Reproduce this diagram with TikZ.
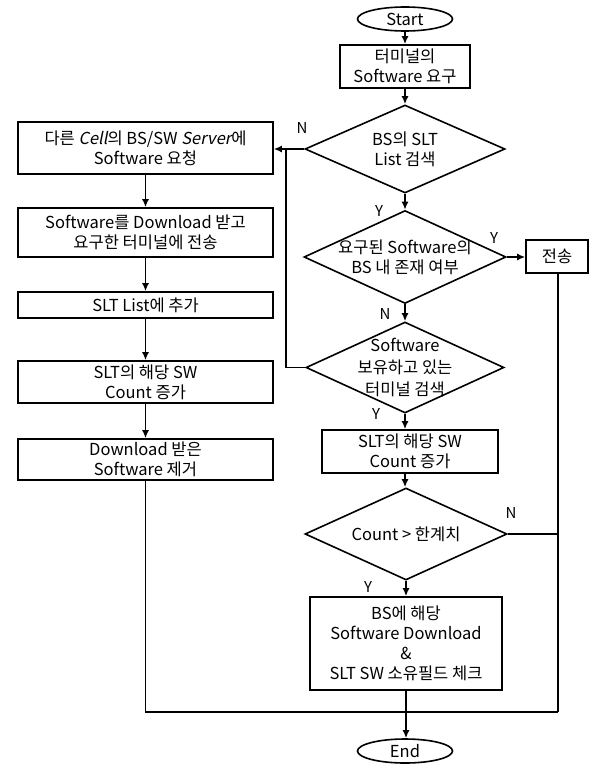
\documentclass[tikz,border=0pt]{standalone}
\usepackage{fontspec}
\setmainfont{Noto Sans CJK KR}
\newfontfamily\slfont[FakeSlant=0.2]{Noto Sans CJK KR}
\usetikzlibrary{shapes.geometric,arrows.meta}
\begin{document}
\begin{tikzpicture}[x=1pt,y=-1pt,
  line width=1.6pt,
  every node/.style={font=\fontsize{16.5}{20}\selectfont},
  box/.style={draw,rectangle,align=center,inner sep=1pt},
  dia/.style={draw,diamond,align=center,aspect=2.2,inner sep=-7pt},
  term/.style={draw,ellipse,minimum width=95pt,minimum height=24pt,inner sep=0pt},
  lab/.style={font=\fontsize{15}{17}\selectfont,inner sep=0pt},
  arr/.style={-{Latex[length=8pt,width=7pt]}}]
\useasboundingbox (0,0) rectangle (590,765);
% terminals
\node[term] (start) at (405,19) {Start};
\node[term] (end) at (405,751) {End};
% right column
\node[box,minimum width=130pt,minimum height=43pt] (b1) at (405,66.5) {터미널의\\Software 요구};
\node[dia,minimum width=200pt,minimum height=88pt] (d1) at (405,149) {BS의 SLT\\List 검색};
\node[dia,minimum width=202pt,minimum height=93pt] (d2) at (405,257) {요구된 Software의\\BS 내 존재 여부};
\node[box,minimum width=62pt,minimum height=33pt] (tx) at (557,256.5) {전송};
\node[dia,minimum width=198pt,minimum height=91pt,font=\fontsize{16.5}{22}\selectfont] (d3) at (405,367.5) {Software\\보유하고 있는\\터미널 검색};
\node[box,minimum width=176pt,minimum height=43pt] (r2) at (410,451.5) {SLT의 해당 SW\\Count 증가};
\node[dia,minimum width=202pt,minimum height=92pt] (d4) at (406,534) {Count > 한계치};
\node[box,minimum width=192pt,minimum height=93pt] (r3) at (406,643.5) {BS에 해당\\Software Download\\\&\\SLT SW 소유필드 체크};
% left column
\node[box,minimum width=255pt,minimum height=52pt] (l1) at (145.5,148) {다른 {\slfont Cell}의 BS/SW {\slfont Server}에\\Software 요청};
\node[box,minimum width=255pt,minimum height=49pt] (l2) at (145.5,232.5) {Software를 Download 받고\\요구한 터미널에 전송};
\node[box,minimum width=255pt,minimum height=26pt] (l3) at (145.5,305) {SLT List에 추가};
\node[box,minimum width=255pt,minimum height=42pt] (l4) at (145.5,382) {SLT의 해당 SW\\Count 증가};
\node[box,minimum width=255pt,minimum height=41pt] (l5) at (145.5,459.5) {Download 받은\\Software 제거};
% labels
\node[lab] (n1) at (302,128) {N};
\node[lab] (y1) at (379,211) {Y};
\node[lab] (y2) at (494,238) {Y};
\node[lab] (n2) at (385,314) {N};
\node[lab] (y3) at (376,414) {Y};
\node[lab] (n3) at (511,513) {N};
\node[lab] (y4) at (368,587) {Y};
% junction coordinates
\coordinate (j1) at (286,149);
\coordinate (j2) at (558,712);
% connectors right column
\draw[arr] (start) -- (b1);
\draw[arr] (b1) -- (d1);
\draw[arr] (d1.south) -- (d1.south |- d2.north);
\draw[arr] (d2.east) -- (d2.east -| tx.west);
\draw[arr] (d2.south) -- (d2.south |- d3.north);
\draw[arr] (d3.south) -- (d3.south |- r2.north);
\draw[arr] (d3.south |- r2.south) -- (d3.south |- d4.north);
\draw[arr] (d4.south) -- (d4.south |- r3.north);
\draw[arr] (d4.south |- r3.south) -- (d4.south |- end.north);
% loops back to left column
\draw[arr] (d1.west) -- (j1) -- (j1 -| l1.east);
\draw (d3.west) -- (d3.west -| j1) -- (j1);
% left column
\draw[arr] (l1) -- (l2);
\draw[arr] (l2) -- (l3);
\draw[arr] (l3) -- (l4);
\draw[arr] (l4) -- (l5);
% merge to end
\draw (tx.south -| j2) -- (j2);
\draw (d4.east) -- (d4.east -| j2);
\draw (l5.south) -- (l5.south |- j2) -- (j2);
\end{tikzpicture}
\end{document}
